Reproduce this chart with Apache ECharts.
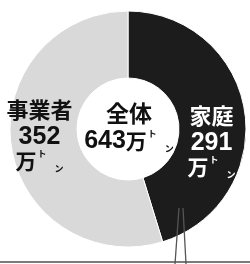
<!DOCTYPE html>
<html>
<head>
<meta charset="utf-8">
<script src="https://cdn.jsdelivr.net/npm/echarts@6/dist/echarts.min.js"></script>
<style>
  html, body { margin: 0; padding: 0; background: #fff; }
  #chart { width: 250px; height: 264px; }
</style>
</head>
<body>
<div id="chart"></div>
<script>
// data (unit: 万トン)
var categories = ['家庭', '事業者']
var values = [291, 352]
var totalName = '全体'
var unitMan = '万'
var unitTo = 'ト'
var unitN = 'ン'

var total = values.reduce(function (a, b) { return a + b }, 0)

var jp = '"Noto Sans CJK JP", sans-serif'
var num = '"Liberation Sans", Arial, sans-serif'

function richFor(color) {
    return {
        name: {fontFamily: jp, fontWeight: 'bold', fontSize: 22, lineHeight: 31, color: color},
        num: {fontFamily: num, fontWeight: 'bold', fontSize: 25, lineHeight: 24, color: color},
        man: {fontFamily: jp, fontWeight: 'bold', fontSize: 21, lineHeight: 24, color: color},
        to: {fontFamily: jp, fontWeight: 'bold', fontSize: 9, lineHeight: 12, verticalAlign: 'top', padding: [0, 0, 0, 1], color: color},
        n: {fontFamily: jp, fontWeight: 'bold', fontSize: 9, lineHeight: 10, verticalAlign: 'bottom', padding: [0, 0, 0, 8], color: color}
    }
}

var colors = ['#1c1c1c', '#d9d9d9']
var labelColors = ['#ffffff', '#111111']
var labelShift = [[-3, 24], [-2, -8]]

var chart = echarts.init(document.getElementById('chart'))

var centerRich = richFor('#111111')
centerRich.name.fontSize = 23

var option = {
    animation: false,
    title: {
        text: '{name|' + totalName + '}\n{num|' + total + '}{man|' + unitMan + '}{to|' + unitTo + '}{n|' + unitN + '}',
        left: 124,
        top: 93,
        textAlign: 'center',
        textStyle: {rich: centerRich}
    },
    series: [{
        type: 'pie',
        center: [128, 129],
        radius: [51, 118],
        startAngle: 90,
        clockwise: true,
        silent: true,
        itemStyle: {borderColor: '#ffffff', borderWidth: 1},
        label: {
            position: 'inside',
            align: 'center',
            formatter: function (p) {
                return '{name|' + p.name + '}\n{num|' + p.value + '}\n{man|' + unitMan + '}{to|' + unitTo + '}{n|' + unitN + '}'
            }
        },
        labelLayout: function (p) {
            return {dx: labelShift[p.dataIndex][0], dy: labelShift[p.dataIndex][1]}
        },
        data: categories.map(function (c, i) {
            return {
                name: c,
                value: values[i],
                itemStyle: {color: colors[i]},
                label: {rich: richFor(labelColors[i])}
            }
        })
    }],
    graphic: [
        // rule under the chart and the leader line running down out of it
        {type: 'line', shape: {x1: 0, y1: 262, x2: 250, y2: 262}, style: {stroke: '#7a7a7a', lineWidth: 2}, z: 10},
        {type: 'line', shape: {x1: 179, y1: 208, x2: 175, y2: 264}, style: {stroke: '#555', lineWidth: 1.3}, z: 10},
        {type: 'line', shape: {x1: 183, y1: 208, x2: 186, y2: 264}, style: {stroke: '#555', lineWidth: 1.3}, z: 10}
    ]
}

chart.setOption(option)
</script>
</body>
</html>
